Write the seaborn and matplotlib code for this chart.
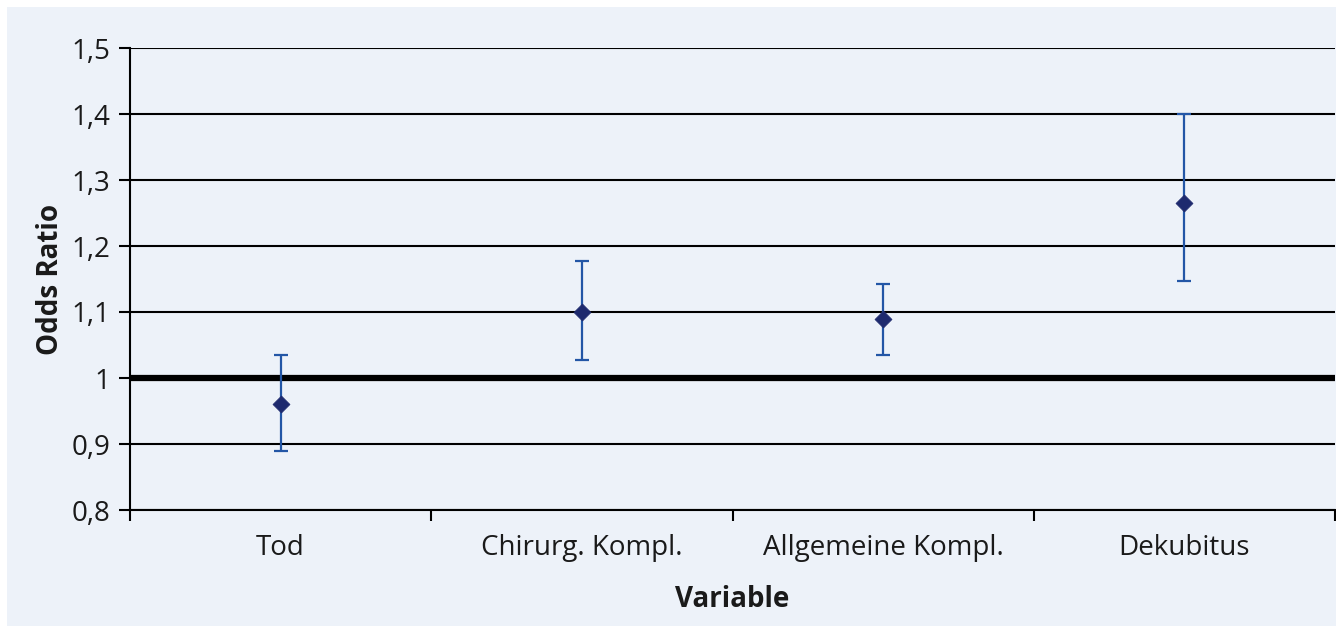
import numpy as np
import pandas as pd
import matplotlib
matplotlib.use("Agg")
import matplotlib.pyplot as plt
from matplotlib.patches import Rectangle
import seaborn as sns

# Odds ratios with 95% confidence limits per outcome variable
variables = ["Tod", "Chirurg. Kompl.", "Allgemeine Kompl.", "Dekubitus"]
odds_ratio = [0.96, 1.10, 1.09, 1.265]
ci_lower = [0.89, 1.028, 1.035, 1.147]
ci_upper = [1.035, 1.178, 1.142, 1.40]

y_ticks = [0.8, 0.9, 1.0, 1.1, 1.2, 1.3, 1.4, 1.5]
y_tick_labels = ["0,8", "0,9", "1", "1,1", "1,2", "1,3", "1,4", "1,5"]

df = pd.DataFrame({"Variable": variables, "OR": odds_ratio,
                   "lo": ci_lower, "hi": ci_upper})

sns.set_theme(style="white")
plt.rcParams["font.family"] = ["Open Sans", "DejaVu Sans"]

bg = "#EDF2F9"
W, H = 1336, 626
fig = plt.figure(figsize=(W / 100, H / 100), dpi=100, facecolor="white")
fig.patches.append(Rectangle((7 / W, 0), 1 - 7 / W, 1 - 7 / H,
                             transform=fig.transFigure, facecolor=bg,
                             edgecolor="none", zorder=-10))
ax = fig.add_axes([130 / W, 1 - 510 / H, (1335 - 130) / W, (510 - 48) / H])
ax.set_facecolor(bg)

# horizontal grid lines, with a heavy reference line at OR = 1
for y in y_ticks:
    if y == 1.0:
        ax.axhline(y, color="black", lw=4.5, zorder=1)
    else:
        ax.axhline(y, color="black", lw=1.5, zorder=1)

x = np.arange(len(variables))
err = np.vstack([df["OR"] - df["lo"], df["hi"] - df["OR"]])
ax.errorbar(x, df["OR"], yerr=err, fmt="none", ecolor="#2356A6",
            elinewidth=1.6, capsize=5, capthick=1.6, zorder=3)
sns.scatterplot(data=df, x="Variable", y="OR", marker="D", s=75,
                color="#1E2A6E", edgecolor="#1E2A6E", linewidth=0.5,
                ax=ax, zorder=4)

ax.set_xlim(-0.5, len(variables) - 0.5)
ax.set_ylim(0.8, 1.5)
ax.set_yticks(y_ticks)
ax.set_yticklabels(y_tick_labels, fontsize=20, color="#1a1a1a")

# category boundaries carry the tick marks, centres carry the labels
ax.set_xticks(np.arange(-0.5, len(variables), 1.0))
ax.set_xticklabels([])
ax.set_xticks(x, minor=True)
ax.set_xticklabels(variables, minor=True, fontsize=20, color="#1a1a1a")
ax.tick_params(axis="x", which="major", direction="out", length=8,
               width=1.5, color="black", bottom=True)
ax.tick_params(axis="x", which="minor", length=0, pad=17)
ax.tick_params(axis="y", direction="out", length=8, width=1.5,
               color="black", left=True, pad=6)

for side in ["top", "right"]:
    ax.spines[side].set_visible(False)
ax.spines["left"].set_color("black")
ax.spines["left"].set_linewidth(1.5)
ax.spines["bottom"].set_color("black")
ax.spines["bottom"].set_linewidth(1.5)

ax.set_xlabel("Variable", fontsize=20, fontweight="bold", color="#1a1a1a",
              labelpad=17)
ax.set_ylabel("Odds Ratio", fontsize=20, fontweight="bold", color="#1a1a1a",
              labelpad=5)

fig.savefig("out.png", dpi=100, facecolor="white")
